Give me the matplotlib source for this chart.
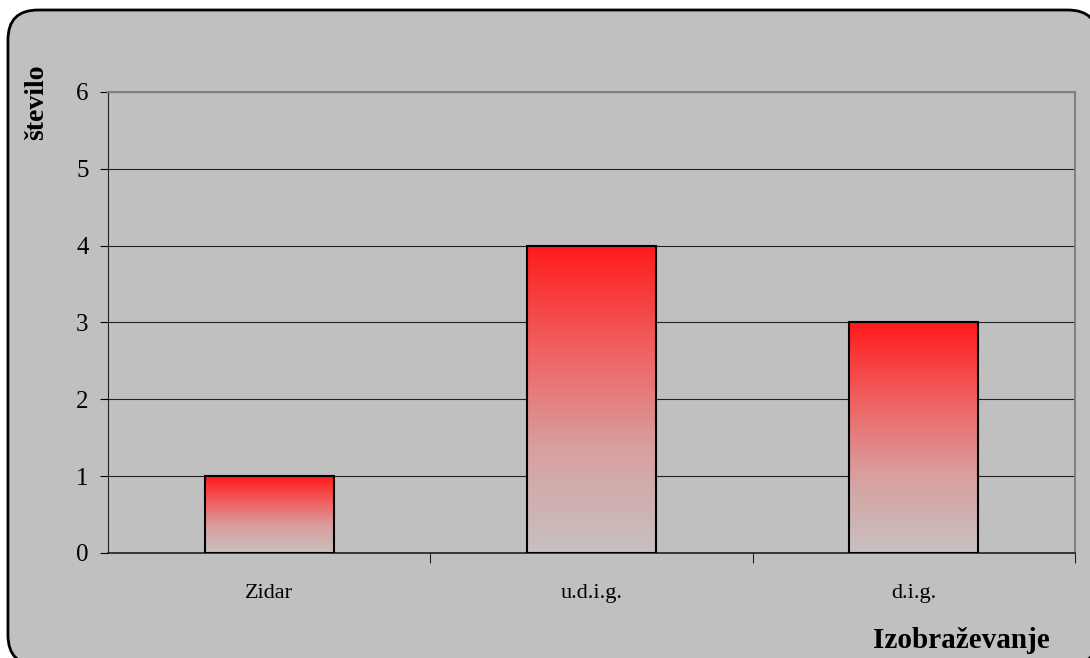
import numpy as np
import matplotlib.pyplot as plt
from matplotlib.patches import FancyBboxPatch
from matplotlib.colors import LinearSegmentedColormap

categories = ['Zidar', 'u.d.i.g.', 'd.i.g.']
values = [1, 4, 3]
yticks = [0, 1, 2, 3, 4, 5, 6]

plt.rcParams['font.family'] = ['Liberation Serif', 'DejaVu Serif']

fig = plt.figure(figsize=(10.9, 6.58), dpi=100)
fig.patch.set_facecolor('white')
# rounded frame, partly running off the right and bottom edge
frame = FancyBboxPatch((0.0073, -0.0106), 1.0, 0.9954, boxstyle='round,pad=0,rounding_size=0.0275',
                       transform=fig.transFigure, facecolor='#c0c0c0', edgecolor='black',
                       linewidth=2, mutation_aspect=1090/658., zorder=-5)
fig.patches.append(frame)

ax = fig.add_axes([0.0991, 0.1596, 0.8872, 0.7006])
ax.set_facecolor('#c0c0c0')

cmap = LinearSegmentedColormap.from_list('g', ['#c8c0c0', '#d8a0a0', '#f06060', '#ff1a1a'])
grad = np.linspace(0, 1, 256).reshape(-1, 1)
w = 0.4
bars = ax.bar(range(len(values)), values, width=w, facecolor='none', edgecolor='black',
              linewidth=1.5, zorder=3)
for i, b in enumerate(bars):
    im = ax.imshow(grad, cmap=cmap, origin='lower', aspect='auto', zorder=2,
                   extent=[i - w/2, i + w/2, 0, values[i]])
    im.set_clip_path(b)
ax.set_xlim(-0.5, 2.5)
ax.set_ylim(0, 6)

ax.set_yticks(yticks)
ax.yaxis.grid(True, color='#202020', linewidth=0.8)
ax.set_axisbelow(True)
ax.set_xticks([0.5, 1.5, 2.5], minor=False)
ax.set_xticklabels([])
ax.set_xticks(range(len(categories)), minor=True)
ax.set_xticklabels(categories, minor=True)
ax.tick_params(axis='x', which='minor', length=0, pad=22, labelsize=16)
ax.tick_params(axis='x', which='major', length=7, direction='out', color='#202020')
ax.tick_params(axis='y', length=6, direction='out', labelsize=18, pad=8)
for s in ['top', 'right']:
    ax.spines[s].set_color('#808080')
    ax.spines[s].set_linewidth(1.5)
ax.spines['left'].set_color('#202020')
ax.spines['bottom'].set_color('#202020')
ax.spines['bottom'].set_linewidth(1.2)

fig.text(0.034, 0.845, 'število', rotation=90, fontsize=20, fontweight='bold', ha='center', va='center')
fig.text(0.963, 0.027, 'Izobraževanje', fontsize=21, fontweight='bold', ha='right', va='center')

fig.savefig('out.png', dpi=100)
